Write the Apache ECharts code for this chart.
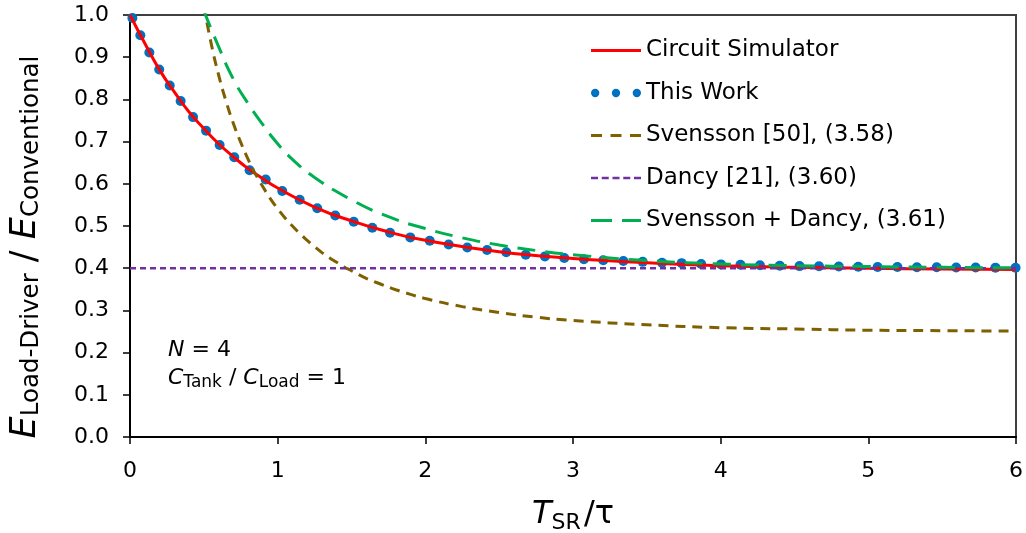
<!DOCTYPE html>
<html>
<head>
    <meta charset="utf-8">
    <title>E ratio vs T_SR / tau</title>
    <script src="https://cdn.jsdelivr.net/npm/echarts@6/dist/echarts.min.js"></script>
    <style type="text/css">
        html, body {
            margin: 0;
            padding: 0;
            background: #fff;
        }
        #chart {
            width: 1026px;
            height: 533px;
        }
    </style>
</head>
<body>
<div id="chart"></div>
<script>
    // Circuit Simulator (red solid)
    var simX = [0, 0.1, 0.2, 0.3, 0.4, 0.5, 0.6, 0.7, 0.8, 0.9, 1.0, 1.25, 1.5, 1.75, 2.0, 2.5, 3.0, 3.5, 4.0, 4.5, 5.0, 5.5, 6.0];
    var simY = [1.000, 0.933, 0.870, 0.818, 0.770, 0.731, 0.695, 0.664, 0.636, 0.612, 0.590, 0.545, 0.512, 0.486, 0.466, 0.439, 0.423, 0.413, 0.406, 0.402, 0.400, 0.398, 0.397];

    // This Work (blue dots)
    var workX = [0.016, 0.070, 0.131, 0.198, 0.269, 0.343, 0.427, 0.515, 0.607, 0.706, 0.810, 0.919,
        1.031, 1.149, 1.268, 1.390, 1.515, 1.641, 1.761, 1.898, 2.030, 2.158, 2.284, 2.418, 2.548,
        2.680, 2.810, 2.941, 3.074, 3.205, 3.341, 3.472, 3.603, 3.736, 3.868, 4.002, 4.134, 4.266,
        4.400, 4.534, 4.666, 4.800, 4.932, 5.063, 5.197, 5.329, 5.463, 5.595, 5.727, 5.861, 5.997];
    var workY = [0.993, 0.952, 0.911, 0.871, 0.833, 0.796, 0.758, 0.726, 0.692, 0.663, 0.632, 0.610,
        0.583, 0.562, 0.542, 0.525, 0.510, 0.496, 0.484, 0.473, 0.465, 0.456, 0.449, 0.443, 0.438,
        0.432, 0.428, 0.424, 0.421, 0.419, 0.417, 0.415, 0.413, 0.412, 0.410, 0.409, 0.408, 0.407,
        0.406, 0.405, 0.4045, 0.404, 0.4035, 0.403, 0.4027, 0.4024, 0.4021, 0.4018, 0.4015, 0.4013, 0.401];

    // Svensson [50], (3.58) (brown dashed)
    var svX = [0.5, 0.55, 0.6, 0.65, 0.7, 0.75, 0.8, 0.85, 0.9, 0.95, 1.0, 1.05, 1.1, 1.15, 1.2, 1.25, 1.3, 1.35, 1.4, 1.45, 1.5,
        1.6, 1.7, 1.8, 1.9, 2.0, 2.25, 2.5, 2.75, 3.0, 3.5, 4.0, 4.5, 5.0, 5.5, 6.0];
    var svY = [1.021, 0.932, 0.858, 0.796, 0.743, 0.698, 0.658, 0.623, 0.593, 0.565, 0.541, 0.519, 0.500, 0.482, 0.466, 0.451, 0.437, 0.425, 0.414, 0.403, 0.394,
        0.376, 0.362, 0.349, 0.338, 0.328, 0.309, 0.295, 0.284, 0.276, 0.266, 0.259, 0.256, 0.253, 0.252, 0.251];

    // Dancy [21], (3.60) (purple short dash)
    var dancyX = [0, 6];
    var dancyY = [0.4, 0.4];

    // Svensson + Dancy, (3.61) (green long dash)
    var sdX = [0.5, 0.6, 0.7, 0.8, 0.9, 1.0, 1.1, 1.25, 1.5, 1.75, 2.0, 2.25, 2.5, 2.75, 3.0, 3.5, 4.0, 4.5, 5.0, 5.5, 6.0];
    var sdY = [1.01, 0.925, 0.848, 0.790, 0.740, 0.695, 0.658, 0.615, 0.562, 0.522, 0.494, 0.472, 0.455, 0.442, 0.432, 0.418, 0.410, 0.406, 0.404, 0.402, 0.401];

    var names = ['Circuit Simulator', 'This Work', 'Svensson [50], (3.58)', 'Dancy [21], (3.60)', 'Svensson + Dancy, (3.61)'];

    function pairs(xs, ys) {
        var out = [];
        for (var i = 0; i < xs.length; i++) {
            out.push([xs[i], ys[i]]);
        }
        return out;
    }

    var FONT = 'DejaVu Sans';

    // legend icons, drawn like the excel legend keys
    var icons = {
        solid: 'path://M0,0H50V3H0Z',
        dots: 'path://M1,5a4,4 0 1,0 8,0a4,4 0 1,0 -8,0Z' +
            'M21,5a4,4 0 1,0 8,0a4,4 0 1,0 -8,0Z' +
            'M41,5a4,4 0 1,0 8,0a4,4 0 1,0 -8,0Z',
        dash: 'path://M0,0h11v3h-11Z M19.5,0h11v3h-11Z M39,0h11v3h-11Z',
        shortDash: 'path://M0,0.3h7v2.4h-7Z M10.75,0.3h7v2.4h-7Z M21.5,0.3h7v2.4h-7Z M32.25,0.3h7v2.4h-7Z M43,0.3h7v2.4h-7Z M0,0h0.01v3h-0.01Z',
        longDash: 'path://M0,0h21v3h-21Z M31,0h19v3h-19Z'
    };
    var noBorder = {borderWidth: 0};

    var chart = echarts.init(document.getElementById('chart'));
    var option = {
        backgroundColor: '#ffffff',
        animation: false,
        textStyle: {fontFamily: FONT},
        grid: {
            left: 130,
            right: 10,
            top: 15,
            bottom: 96,
            outerBoundsMode: 'none',
            show: true,
            borderColor: '#404040',
            borderWidth: 2
        },
        legend: {
            orient: 'vertical',
            left: 586,
            top: 34,
            itemWidth: 50,
            itemHeight: 12,
            itemGap: 19.5,
            textStyle: {fontSize: 23, color: '#000', fontFamily: FONT},
            data: [
                {name: names[0], icon: icons.solid, itemStyle: noBorder},
                {name: names[1], icon: icons.dots, itemStyle: noBorder},
                {name: names[2], icon: icons.dash, itemStyle: noBorder},
                {name: names[3], icon: icons.shortDash, itemStyle: noBorder},
                {name: names[4], icon: icons.longDash, itemStyle: noBorder}
            ]
        },
        xAxis: {
            type: 'value',
            min: 0,
            max: 6,
            interval: 1,
            name: '{i|T}{s|SR}{n|/τ}',
            nameLocation: 'middle',
            nameGap: 59,
            nameTextStyle: {
                color: '#000',
                rich: {
                    i: {fontSize: 32, fontStyle: 'italic', fontFamily: FONT, color: '#000'},
                    s: {fontSize: 22, fontFamily: FONT, color: '#000', padding: [16, 3, 0, 0]},
                    n: {fontSize: 32, fontFamily: FONT, color: '#000'}
                }
            },
            axisLine: {show: true, onZero: false, lineStyle: {color: '#000', width: 2}},
            axisTick: {show: true, length: 7, lineStyle: {color: '#000', width: 1.5}},
            axisLabel: {color: '#000', fontSize: 22, margin: 23, fontFamily: FONT},
            splitLine: {show: false}
        },
        yAxis: {
            type: 'value',
            min: 0,
            max: 1,
            interval: 0.1,
            name: '{i|E}{s|Load-Driver}{n| / }{i|E}{s|Conventional}',
            nameLocation: 'middle',
            nameRotate: 90,
            nameGap: 86,
            nameTextStyle: {
                color: '#000',
                padding: [0, 42, 0, 0],
                rich: {
                    i: {fontSize: 35, fontStyle: 'italic', fontFamily: FONT, color: '#000'},
                    s: {fontSize: 24.5, fontFamily: FONT, color: '#000', padding: [12, 0, 0, 0]},
                    n: {fontSize: 35, fontFamily: FONT, color: '#000'}
                }
            },
            axisLine: {show: true, onZero: false, lineStyle: {color: '#000', width: 2}},
            axisTick: {show: true, length: 7, lineStyle: {color: '#000', width: 1.5}},
            axisLabel: {
                color: '#000', fontSize: 22, margin: 21, fontFamily: FONT,
                formatter: function (v) { return v.toFixed(1); }
            },
            splitLine: {show: false}
        },
        graphic: [
            {
                type: 'text',
                left: 168,
                top: 339,
                style: {
                    text: '{i|N}{n| = 4}',
                    rich: {
                        i: {fontSize: 22, fontStyle: 'italic', fontFamily: FONT, fill: '#000'},
                        n: {fontSize: 22, fontFamily: FONT, fill: '#000'}
                    }
                }
            },
            {
                type: 'text',
                left: 168,
                top: 367,
                style: {
                    text: '{i|C}{s|Tank}{n| / }{i|C}{s|Load}{n| = 1}',
                    rich: {
                        i: {fontSize: 22, fontStyle: 'italic', fontFamily: FONT, fill: '#000'},
                        s: {fontSize: 17, fontFamily: FONT, fill: '#000', padding: [9, 0, 0, 0]},
                        n: {fontSize: 22, fontFamily: FONT, fill: '#000'}
                    }
                }
            }
        ],
        series: [
            {
                name: names[0],
                type: 'line',
                data: pairs(simX, simY),
                smooth: 0.5,
                symbol: 'none',
                lineStyle: {color: '#ff0000', width: 3},
                itemStyle: {color: '#ff0000'}
            },
            {
                name: names[1],
                type: 'scatter',
                data: pairs(workX, workY),
                symbol: 'circle',
                symbolSize: 10,
                itemStyle: {color: '#0070c0', opacity: 1}
            },
            {
                name: names[2],
                type: 'line',
                data: pairs(svX, svY),
                smooth: 0.5,
                symbol: 'none',
                lineStyle: {color: '#7f6000', width: 3, type: [10, 7]},
                itemStyle: {color: '#7f6000'}
            },
            {
                name: names[3],
                type: 'line',
                data: pairs(dancyX, dancyY),
                symbol: 'none',
                lineStyle: {color: '#7030a0', width: 2.5, type: [6, 4]},
                itemStyle: {color: '#7030a0'}
            },
            {
                name: names[4],
                type: 'line',
                data: pairs(sdX, sdY),
                smooth: 0.5,
                symbol: 'none',
                lineStyle: {color: '#00b050', width: 3, type: [18, 10]},
                itemStyle: {color: '#00b050'}
            }
        ]
    };
    chart.setOption(option);
</script>
</body>
</html>
